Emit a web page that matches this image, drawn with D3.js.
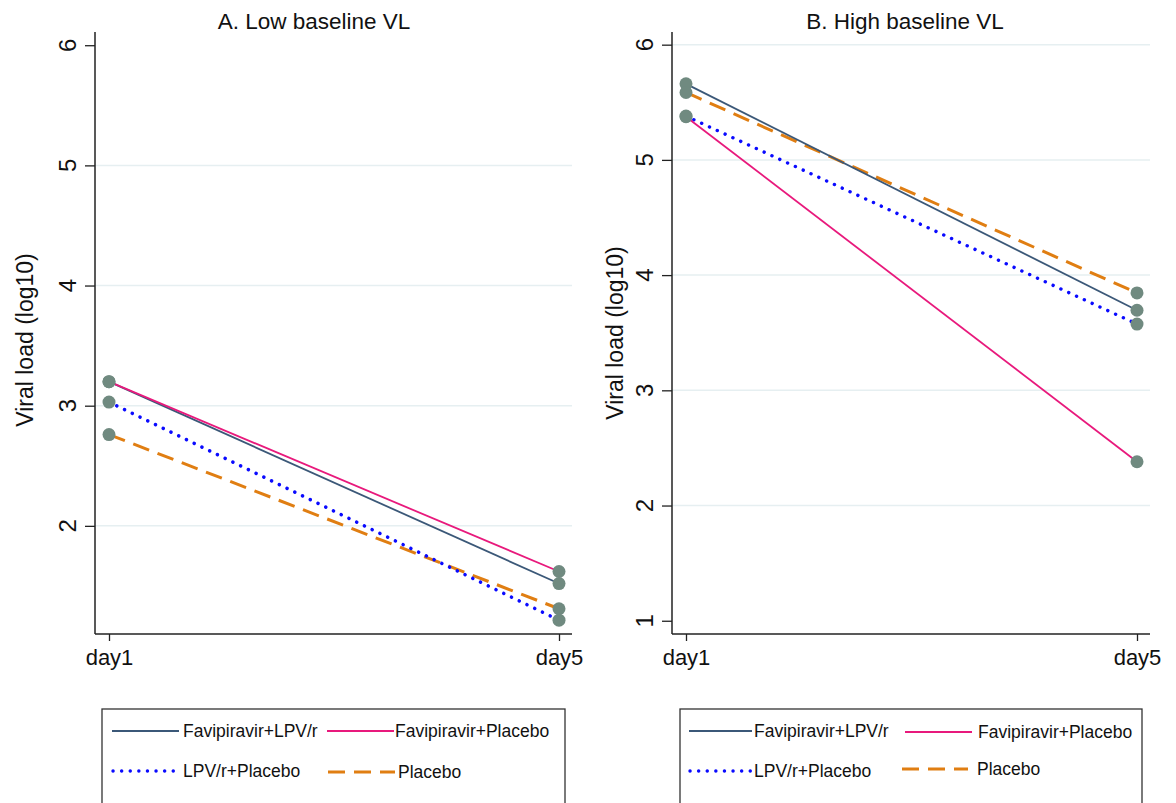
<!DOCTYPE html>
<html>
<head>
<meta charset="utf-8">
<script src="https://cdn.jsdelivr.net/npm/d3@7"></script>
<style>
    body { margin: 0; background: #fff; }
    text { font-family: "Liberation Sans", Arial, sans-serif; fill: #111; }
</style>
</head>
<body>
<svg id="chart" width="1176" height="803"></svg>
<script>
const days = ["day1", "day5"];
const groups = ["Favipiravir+LPV/r", "Favipiravir+Placebo", "LPV/r+Placebo", "Placebo"];

// low baseline VL, mean log10 per group (day1, day5)
const lowFavLpv = [3.20, 1.52];
const lowFavPla = [3.20, 1.62];
const lowLpvPla = [3.03, 1.215];
const lowPlacebo = [2.76, 1.31];

// high baseline VL
const highFavLpv = [5.66, 3.695];
const highFavPla = [5.375, 2.38];
const highLpvPla = [5.38, 3.575];
const highPlacebo = [5.585, 3.845];

const styles = {
    "Favipiravir+LPV/r": { color: "#3b5878", width: 1.8, dash: null, cap: "butt" },
    "Favipiravir+Placebo": { color: "#e8197c", width: 1.8, dash: null, cap: "butt" },
    "LPV/r+Placebo": { color: "#0a0aff", width: 3.4, dash: "0.1,8.5", cap: "round" },
    "Placebo": { color: "#e07e12", width: 3, dash: "17,9", cap: "butt" }
};

class Panel {
    constructor(svg, opts) {
        this.svg = svg;
        this.o = opts;
    }

    initialize() {
        const o = this.o;
        this.g = this.svg.append("g");
        this.xScale = d3.scalePoint().domain(days).range([o.left + 14, o.right - 13]);
        this.yScale = d3.scaleLinear().domain(o.yDomain).range([634, 32]);
    }

    update(series) {
        const o = this.o, x = this.xScale, y = this.yScale, g = this.g;

        // gridlines
        g.selectAll("line.grid")
            .data(o.grid)
            .join("line")
            .attr("class", "grid")
            .attr("x1", o.left).attr("x2", o.right)
            .attr("y1", d => y(d)).attr("y2", d => y(d))
            .attr("stroke", "#e6eff1").attr("stroke-width", 1.5);

        // y axis (ticks from d3, labels rotated like stata)
        const yAxis = g.append("g")
            .attr("transform", `translate(${o.left},0)`)
            .call(d3.axisLeft(y).tickValues(o.ticks).tickSize(10).tickFormat(""));
        yAxis.select(".domain").remove();
        yAxis.selectAll(".tick line").attr("stroke", "#222").attr("stroke-width", 1.3);
        g.selectAll("text.ylab")
            .data(o.ticks)
            .join("text")
            .attr("class", "ylab")
            .attr("transform", d => `translate(${o.left - 28},${y(d)}) rotate(-90)`)
            .attr("text-anchor", "middle")
            .attr("dominant-baseline", "central")
            .style("font-size", "24px")
            .text(d => d);
        g.append("line")
            .attr("x1", o.left).attr("x2", o.left)
            .attr("y1", 32).attr("y2", 634)
            .attr("stroke", "#222").attr("stroke-width", 1.5);

        // x axis
        const xAxis = g.append("g")
            .attr("transform", "translate(0,634)")
            .call(d3.axisBottom(x).tickSize(7).tickPadding(8));
        xAxis.select(".domain").remove();
        xAxis.selectAll(".tick line").attr("stroke", "#222").attr("stroke-width", 1.3);
        xAxis.selectAll(".tick text")
            .style("font-size", "22px")
            .style("font-family", "Liberation Sans, Arial, sans-serif")
            .attr("fill", "#111");
        g.append("line")
            .attr("x1", o.left).attr("x2", o.right)
            .attr("y1", 634).attr("y2", 634)
            .attr("stroke", "#222").attr("stroke-width", 1.5);

        // titles
        g.append("text")
            .attr("x", o.titleX).attr("y", 29)
            .attr("text-anchor", "middle")
            .style("font-size", "22.5px")
            .text(o.title);
        g.append("text")
            .attr("transform", `translate(${o.yTitleX},${o.yTitleY}) rotate(-90)`)
            .attr("text-anchor", "middle")
            .attr("dominant-baseline", "central")
            .style("font-size", "23px")
            .text("Viral load (log10)");

        // lines
        const line = d3.line().x((d, i) => x(days[i])).y(d => y(d));
        const order = ["Placebo", "LPV/r+Placebo", "Favipiravir+LPV/r", "Favipiravir+Placebo"];
        g.selectAll("path.series")
            .data(order)
            .join("path")
            .attr("class", "series")
            .attr("d", k => line(series[k]))
            .attr("fill", "none")
            .attr("stroke", k => styles[k].color)
            .attr("stroke-width", k => styles[k].width)
            .attr("stroke-dasharray", k => styles[k].dash)
            .attr("stroke-linecap", k => styles[k].cap);

        // markers
        const pts = [];
        groups.forEach(k => series[k].forEach((v, i) => pts.push({ day: days[i], v: v })));
        g.selectAll("circle.pt")
            .data(pts)
            .join("circle")
            .attr("class", "pt")
            .attr("cx", d => x(d.day))
            .attr("cy", d => y(d.v))
            .attr("r", 6.5)
            .attr("fill", "#708a80");

        // legend
        const lg = g.append("g");
        lg.append("rect")
            .attr("x", o.legend.x).attr("y", 709)
            .attr("width", o.legend.w).attr("height", 120)
            .attr("fill", "none").attr("stroke", "#333").attr("stroke-width", 1.3);
        o.legend.items.forEach(it => {
            const s = styles[it.key];
            lg.append("line")
                .attr("x1", it.x).attr("x2", it.x2)
                .attr("y1", it.y).attr("y2", it.y)
                .attr("stroke", s.color)
                .attr("stroke-width", s.width)
                .attr("stroke-dasharray", s.dash)
                .attr("stroke-linecap", s.cap);
            lg.append("text")
                .attr("x", it.tx).attr("y", it.y)
                .attr("dominant-baseline", "central")
                .style("font-size", "17.5px")
                .text(it.key);
        });
    }
}

const svg = d3.select("#chart");

const left = new Panel(svg, {
    left: 95, right: 572, yDomain: [1.1, 6.11],
    ticks: [2, 3, 4, 5, 6], grid: [2, 3, 4, 5],
    title: "A. Low baseline VL", titleX: 314, yTitleX: 25, yTitleY: 340,
    legend: {
        x: 102, w: 463,
        items: [
            { key: "Favipiravir+LPV/r", x: 112, x2: 179, tx: 183, y: 731 },
            { key: "Favipiravir+Placebo", x: 327, x2: 394, tx: 395, y: 731 },
            { key: "LPV/r+Placebo", x: 113, x2: 179, tx: 183, y: 771 },
            { key: "Placebo", x: 328, x2: 395, tx: 398, y: 772 }
        ]
    }
});
left.initialize();
left.update({
    "Favipiravir+LPV/r": lowFavLpv,
    "Favipiravir+Placebo": lowFavPla,
    "LPV/r+Placebo": lowLpvPla,
    "Placebo": lowPlacebo
});

const right = new Panel(svg, {
    left: 672, right: 1150, yDomain: [0.885, 6.11],
    ticks: [1, 2, 3, 4, 5, 6], grid: [2, 3, 4, 5, 6],
    title: "B. High baseline VL", titleX: 905, yTitleX: 615, yTitleY: 333,
    legend: {
        x: 680, w: 462,
        items: [
            { key: "Favipiravir+LPV/r", x: 689, x2: 752, tx: 754, y: 731 },
            { key: "Favipiravir+Placebo", x: 905, x2: 972, tx: 978, y: 732 },
            { key: "LPV/r+Placebo", x: 690, x2: 752, tx: 754, y: 771 },
            { key: "Placebo", x: 902, x2: 968, tx: 977, y: 769 }
        ]
    }
});
right.initialize();
right.update({
    "Favipiravir+LPV/r": highFavLpv,
    "Favipiravir+Placebo": highFavPla,
    "LPV/r+Placebo": highLpvPla,
    "Placebo": highPlacebo
});
</script>
</body>
</html>
